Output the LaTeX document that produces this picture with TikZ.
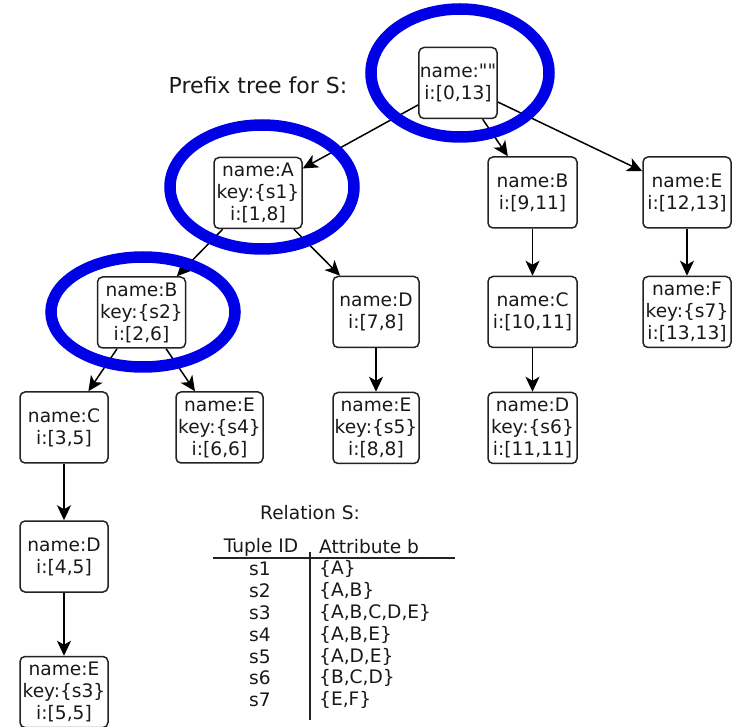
\documentclass[tikz,border=0pt]{standalone}
\usepackage{fontspec}
\setmainfont{DejaVu Sans}
\newfontfamily\plainq{DejaVu Sans}
\usetikzlibrary{arrows.meta}
\definecolor{ringblue}{RGB}{0,0,230}
\definecolor{boxline}{RGB}{35,35,35}
\definecolor{txt}{RGB}{25,25,25}
\begin{document}
\begin{tikzpicture}[x=1pt,y=-1pt,
  tnode/.style={draw=boxline,line width=1.5pt,rounded corners=5pt,minimum width=88pt,minimum height=71pt,
    align=center,inner xsep=1pt,inner ysep=2pt,font=\fontsize{18.6}{22}\selectfont,text=txt},
  edge/.style={line width=1.5pt,draw=black,-{Stealth[length=15pt,width=14pt,inset=4pt]}},
  ring/.style={draw=ringblue,line width=11.5pt},
  tab/.style={font=\fontsize{18.6}{21.8}\selectfont,text=txt,inner sep=0pt}]
\useasboundingbox (0,0) rectangle (737,727);
% nodes
\node[tnode,minimum width=78pt] (r) at (458,83) {name:{\plainq""}\\i:[0,13]};
\node[tnode] (a) at (258,193) {name:A\\key:\{s1\}\\i:[1,8]};
\node[tnode] (b) at (141.5,312.5) {name:B\\key:\{s2\}\\i:[2,6]};
\node[tnode,minimum width=86pt] (d1) at (376,312) {name:D\\i:[7,8]};
\node[tnode] (c1) at (64,427.5) {name:C\\i:[3,5]};
\node[tnode,minimum width=87pt] (e1) at (219.5,427.5) {name:E\\key:\{s4\}\\i:[6,6]};
\node[tnode,minimum width=86pt] (e2) at (376,428) {name:E\\key:\{s5\}\\i:[8,8]};
\node[tnode] (d2) at (64,556.5) {name:D\\i:[4,5]};
\node[tnode] (e3) at (64,692) {name:E\\key:\{s3\}\\i:[5,5]};
\node[tnode,minimum width=89pt] (b2) at (532.5,192.5) {name:B\\i:[9,11]};
\node[tnode,minimum width=89pt] (c2) at (532.5,312) {name:C\\i:[10,11]};
\node[tnode,minimum width=89pt] (d3) at (532.5,428) {name:D\\key:\{s6\}\\i:[11,11]};
\node[tnode] (e4) at (687,192.5) {name:E\\i:[12,13]};
\node[tnode] (f) at (687,312) {name:F\\key:\{s7\}\\i:[13,13]};
% title
\node[font=\fontsize{22}{24}\selectfont,text=txt,inner sep=0pt] (title) at (258,85) {Prefix tree for S:};
% edges
\draw[edge] (r) -- (a);
\draw[edge] (r) -- (b2);
\draw[edge] (r) -- (e4);
\draw[edge] (a) -- (b);
\draw[edge] (a) -- (d1);
\draw[edge] (b) -- (c1);
\draw[edge] (b) -- (e1);
\draw[edge] (c1) -- (d2);
\draw[edge] (d2) -- (e3);
\draw[edge] (d1) -- (e2);
\draw[edge] (b2) -- (c2);
\draw[edge] (c2) -- (d3);
\draw[edge] (e4) -- (f);
% rings
\draw[ring] (460,73) ellipse [x radius=89pt,y radius=64pt];
\draw[ring] (262,187) ellipse [x radius=92pt,y radius=62pt];
\draw[ring] (143,312) ellipse [x radius=92pt,y radius=55pt];
% relation table
\node[tab] (rel) at (310,513) {Relation S:};
\node[tab] (h1) at (261,547) {Tuple ID};
\node[tab,anchor=west] (h2) at (319,547) {Attribute b};
\coordinate (hl) at (213,558);
\coordinate (hr) at (455,558);
\draw[line width=1.5pt,draw=boxline] (hl) -- (hr);
\coordinate (vt) at (310,552);
\coordinate (vb) at (310,720);
\draw[line width=1.5pt,draw=boxline] (vt) -- (vb);
\node[tab] (s1) at (260,569) {s1};
\node[tab] (s2) at (260,591) {s2};
\node[tab] (s3) at (260,613) {s3};
\node[tab] (s4) at (260,635) {s4};
\node[tab] (s5) at (260,657) {s5};
\node[tab] (s6) at (260,678) {s6};
\node[tab] (s7) at (260,700) {s7};
\node[tab,anchor=west] (t1) at (319,569) {\{A\}};
\node[tab,anchor=west] (t2) at (319,591) {\{A,B\}};
\node[tab,anchor=west] (t3) at (319,613) {\{A,B,C,D,E\}};
\node[tab,anchor=west] (t4) at (319,635) {\{A,B,E\}};
\node[tab,anchor=west] (t5) at (319,657) {\{A,D,E\}};
\node[tab,anchor=west] (t6) at (319,678) {\{B,C,D\}};
\node[tab,anchor=west] (t7) at (319,700) {\{E,F\}};
\end{tikzpicture}
\end{document}
